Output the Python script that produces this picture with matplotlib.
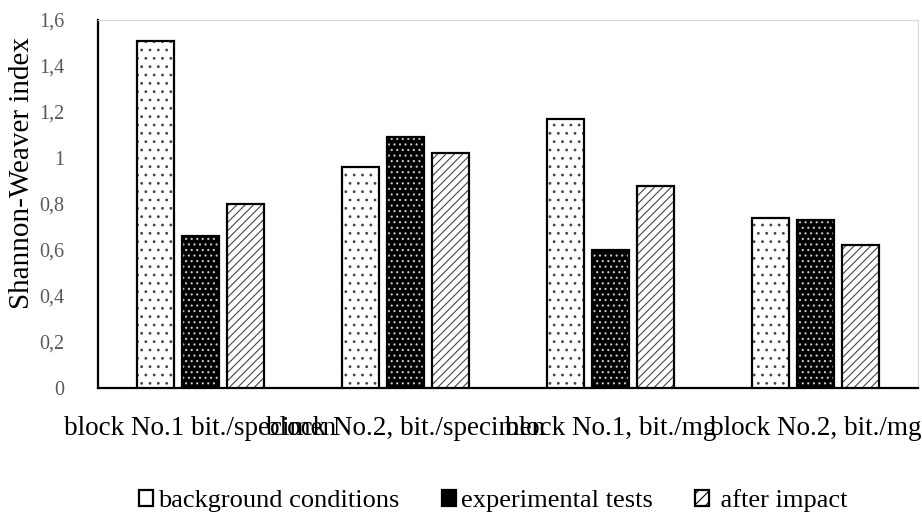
import matplotlib
matplotlib.use("Agg")
import matplotlib.pyplot as plt
import numpy as np
from matplotlib.patches import Patch

categories = ["block No.1 bit./specimen", "block No.2, bit./specimen",
              "block No.1, bit./mg", "block No.2, bit./mg"]
background = [1.51, 0.96, 1.17, 0.74]
experimental = [0.66, 1.09, 0.60, 0.73]
after_impact = [0.80, 1.02, 0.88, 0.62]
yticks = [0, 0.2, 0.4, 0.6, 0.8, 1.0, 1.2, 1.4, 1.6]
ytick_labels = ["0", "0,2", "0,4", "0,6", "0,8", "1", "1,2", "1,4", "1,6"]
series_labels = ["background conditions", "experimental tests", " after impact"]

plt.rcParams["font.family"] = ["Liberation Serif", "DejaVu Serif"]
plt.rcParams["hatch.linewidth"] = 0.8

fig = plt.figure(figsize=(9.22, 5.14), dpi=100)
ax = fig.add_axes([98 / 922, 126 / 514, 820 / 922, 368 / 514])

x = np.arange(len(categories))
w = 0.178
step = 0.22
edge_lw = 1.6

# background conditions: white with sparse dots
ax.bar(x - step, background, w, facecolor="white", edgecolor="#444444",
       hatch="..", linewidth=0, zorder=3)
ax.bar(x - step, background, w, facecolor="none", edgecolor="black",
       linewidth=edge_lw, zorder=4)

# experimental tests: black with light dots
ax.bar(x, experimental, w, facecolor="black", edgecolor="#c8c8c8",
       hatch="...", linewidth=0, zorder=3)
ax.bar(x, experimental, w, facecolor="none", edgecolor="black",
       linewidth=edge_lw, zorder=4)

# after impact: diagonal lines
ax.bar(x + step, after_impact, w, facecolor="white", edgecolor="#444444",
       hatch="////", linewidth=0, zorder=3)
ax.bar(x + step, after_impact, w, facecolor="none", edgecolor="black",
       linewidth=edge_lw, zorder=4)

ax.set_xlim(-0.5, len(categories) - 0.5)
ax.set_ylim(0, 1.6)
ax.set_yticks(yticks)
ax.set_yticklabels(ytick_labels, color="#595959", fontsize=14.5)
ax.set_xticks(x)
ax.set_xticklabels(categories, fontsize=19.5, color="black")
ax.tick_params(axis="both", length=0)
ax.tick_params(axis="x", pad=20)
ax.tick_params(axis="y", pad=24)

for s in ["top", "right"]:
    ax.spines[s].set_color("#d9d9d9")
    ax.spines[s].set_linewidth(0.8)
ax.spines["left"].set_linewidth(1.6)
ax.spines["bottom"].set_linewidth(1.6)

fig.text(22 / 922, 1 - 173 / 514, "Shannon-Weaver index", rotation=90,
         ha="center", va="center", fontsize=21, color="black")

handles = [
    Patch(facecolor="white", edgecolor="black", linewidth=1.6),
    Patch(facecolor="black", edgecolor="black", linewidth=1.6),
    Patch(facecolor="white", edgecolor="black", hatch="///", linewidth=1.6),
]
fig.legend(handles=handles, labels=series_labels, loc="center",
           bbox_to_anchor=(493.5 / 922, 1 - 501 / 514), ncol=3,
           frameon=False, fontsize=19, handlelength=0.53, handleheight=0.53,
           handletextpad=0.19, columnspacing=1.6, borderpad=0, borderaxespad=0)

fig.savefig("out.png", dpi=100)
